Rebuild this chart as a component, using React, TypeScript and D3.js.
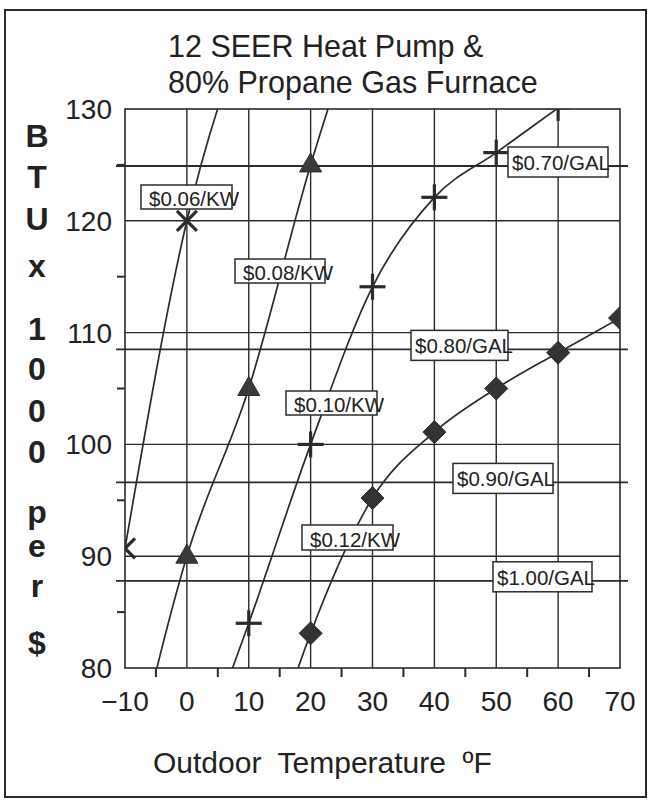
import React from "react";
import * as d3 from "d3";

// ---------- data ----------
const xTickValues = [-10, 0, 10, 20, 30, 40, 50, 60, 70];
const xMinorTicks = [-5, 5, 15, 25, 35, 45, 55, 65];
const yTickValues = [80, 90, 100, 110, 120, 130];
const yMinorTicks = [85, 95, 105, 115, 125];
const gridX = [0, 10, 20, 30, 40, 50, 60];
const gridY = [90, 100, 110, 120];

const kw06Temps = [-10, 0, 10];
const kw06Values = [90.7, 120, 138];
const kw08Temps = [-10, 0, 10, 20, 30];
const kw08Values = [68, 90, 105, 125, 142];
const kw10Temps = [0, 10, 20, 30, 40, 50, 60];
const kw10Values = [69, 84, 100, 114.1, 122.1, 126.1, 130.1];
const kw12Temps = [10, 20, 30, 40, 50, 60, 70];
const kw12Values = [66, 83.1, 95.2, 101.1, 105, 108.2, 111.3];

const kwLabels = ["$0.06/KW", "$0.08/KW", "$0.10/KW", "$0.12/KW"];
const galLabels = ["$0.70/GAL", "$0.80/GAL", "$0.90/GAL", "$1.00/GAL"];
const galValues = [124.9, 108.5, 96.6, 87.8];

const titleLines = ["12 SEER Heat Pump &", "80% Propane Gas Furnace"];
const yTitleChars = ["B", "T", "U", "x", "1", "0", "0", "0", "p", "e", "r", "$"];
const xTitle = "Outdoor  Temperature  ºF";

// ---------- layout ----------
const W = 650;
const H = 801;
const PL = 125, PR = 620, PT = 109, PB = 668;
const yTitleBaselines = [147, 188, 230, 277, 340, 380, 422, 463, 523, 557, 597, 654];
const kwBoxes = [
  { x: 141, y: 185, w: 91, h: 24 },
  { x: 235, y: 259, w: 90, h: 24 },
  { x: 286, y: 391, w: 91, h: 24 },
  { x: 302, y: 525, w: 91, h: 25 },
];
const galBoxes = [
  { x: 508, w: 100 },
  { x: 411, w: 97 },
  { x: 453, w: 100 },
  { x: 493, w: 99 },
];
const INK = "#2b2b2b";
const FONT = "'Liberation Sans', Arial, Helvetica, sans-serif";

type Pt = { t: number; v: number };
const zip = (ts: number[], vs: number[]): Pt[] => ts.map((t, i) => ({ t, v: vs[i] }));

export default function App() {
  const x = d3.scaleLinear().domain([-10, 70]).range([PL, PR]);
  const y = d3.scaleLinear().domain([80, 130]).range([PB, PT]);
  const line = d3
    .line<Pt>()
    .x((d) => x(d.t))
    .y((d) => y(d.v))
    .curve(d3.curveMonotoneX);

  const series = [
    { pts: zip(kw06Temps, kw06Values), marker: "x" },
    { pts: zip(kw08Temps, kw08Values), marker: "tri" },
    { pts: zip(kw10Temps, kw10Values), marker: "plus" },
    { pts: zip(kw12Temps, kw12Values), marker: "dia" },
  ];

  const marker = (kind: string, cx: number, cy: number, key: string) => {
    if (kind === "x") {
      const s = 10;
      return (
        <g key={key} stroke={INK} strokeWidth={3.2}>
          <line x1={cx - s} y1={cy - s} x2={cx + s} y2={cy + s} />
          <line x1={cx - s} y1={cy + s} x2={cx + s} y2={cy - s} />
        </g>
      );
    }
    if (kind === "tri") {
      return (
        <path
          key={key}
          d={`M${cx},${cy - 12} L${cx + 11},${cy + 7} L${cx - 11},${cy + 7} Z`}
          fill="#3a3a3a"
          stroke={INK}
          strokeWidth={1}
        />
      );
    }
    if (kind === "plus") {
      const s = 13;
      return (
        <g key={key} stroke={INK} strokeWidth={3.2}>
          <line x1={cx - s} y1={cy} x2={cx + s} y2={cy} />
          <line x1={cx} y1={cy - s} x2={cx} y2={cy + s} />
        </g>
      );
    }
    const s = 11.5;
    return (
      <path
        key={key}
        d={`M${cx},${cy - s} L${cx + s},${cy} L${cx},${cy + s} L${cx - s},${cy} Z`}
        fill="#333"
        stroke={INK}
        strokeWidth={1}
      />
    );
  };

  return (
    <svg
      width={W}
      height={H}
      style={{ position: "absolute", left: 0, top: 0, background: "#fff" }}
      fontFamily={FONT}
    >
      <defs>
        <clipPath id="plotClip">
          <rect x={PL} y={PT} width={PR - PL} height={PB - PT} />
        </clipPath>
      </defs>
      <rect x={0} y={0} width={W} height={H} fill="#fff" />
      {/* outer frame */}
      <rect x={5} y={10} width={641} height={787} fill="none" stroke={INK} strokeWidth={2} />

      {/* title */}
      {titleLines.map((t, i) => (
        <text key={t} x={168} y={57 + i * 36} fontSize={30.5} fill="#222">
          {t}
        </text>
      ))}

      {/* vertical y title */}
      {yTitleChars.map((c, i) => (
        <text
          key={i}
          x={37}
          y={yTitleBaselines[i]}
          fontSize={32}
          fontWeight="bold"
          textAnchor="middle"
          fill="#222"
        >
          {c}
        </text>
      ))}

      {/* grid */}
      {gridX.map((t) => (
        <line key={"gx" + t} x1={x(t)} x2={x(t)} y1={PT} y2={PB} stroke={INK} strokeWidth={1.4} />
      ))}
      {gridY.map((v) => (
        <line key={"gy" + v} x1={PL} x2={PR} y1={y(v)} y2={y(v)} stroke={INK} strokeWidth={1.4} />
      ))}
      {/* minor ticks */}
      {xMinorTicks.map((t) => (
        <line key={"xt" + t} x1={x(t)} x2={x(t)} y1={PB} y2={PB + 9} stroke={INK} strokeWidth={2} />
      ))}
      {yMinorTicks.map((v) => (
        <line key={"yt" + v} x1={PL - 8} x2={PL} y1={y(v)} y2={y(v)} stroke={INK} strokeWidth={2} />
      ))}
      {/* gallon lines */}
      {galValues.map((v, i) => (
        <line
          key={"gal" + i}
          x1={PL - 9}
          x2={PR + 8}
          y1={y(v)}
          y2={y(v)}
          stroke={INK}
          strokeWidth={1.8}
        />
      ))}
      {/* plot border */}
      <rect x={PL} y={PT} width={PR - PL} height={PB - PT} fill="none" stroke={INK} strokeWidth={1.6} />

      {/* tick labels */}
      {xTickValues.map((t) => (
        <text key={"xl" + t} x={x(t)} y={711} fontSize={28} textAnchor="middle" fill="#222">
          {t < 0 ? "\u2212" + Math.abs(t) : t}
        </text>
      ))}
      {yTickValues.map((v) => (
        <text key={"yl" + v} x={112} y={y(v) + 10} fontSize={28} textAnchor="end" fill="#222">
          {v}
        </text>
      ))}

      {/* x title */}
      <text x={153} y={773} fontSize={30} fill="#222" style={{ whiteSpace: "pre" }}>
        {xTitle}
      </text>

      {/* series */}
      <g clipPath="url(#plotClip)">
        {series.map((s, i) => (
          <path key={"s" + i} d={line(s.pts) || ""} fill="none" stroke={INK} strokeWidth={1.7} />
        ))}
        {series.map((s, i) =>
          s.pts.map((p, j) => marker(s.marker, x(p.t), y(p.v), `m${i}-${j}`))
        )}
      </g>

      {/* KW labels */}
      {kwLabels.map((l, i) => {
        const b = kwBoxes[i];
        return (
          <g key={l}>
            <rect x={b.x} y={b.y} width={b.w} height={b.h} fill="#fff" stroke={INK} strokeWidth={1.5} />
            <text x={b.x + 8} y={b.y + b.h - 3} fontSize={20.5} fill="#222">
              {l}
            </text>
          </g>
        );
      })}
      {/* GAL labels */}
      {galLabels.map((l, i) => {
        const b = galBoxes[i];
        const cy = y(galValues[i]) - 4;
        return (
          <g key={l}>
            <rect x={b.x} y={cy - 15} width={b.w} height={30} fill="#fff" stroke={INK} strokeWidth={1.5} />
            <text x={b.x + 4} y={cy + 8} fontSize={20.5} fill="#222">
              {l}
            </text>
          </g>
        );
      })}
    </svg>
  );
}
